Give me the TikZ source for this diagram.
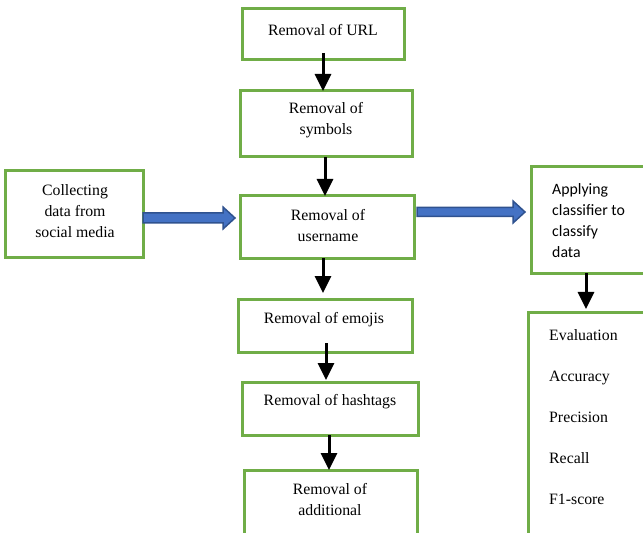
\documentclass[tikz,border=0pt]{standalone}
\usepackage{fontspec}
\setmainfont{Liberation Serif}
\newfontfamily\calib{Carlito}
\usetikzlibrary{arrows.meta,calc}
\definecolor{boxgreen}{HTML}{70AD47}
\definecolor{arrblue}{HTML}{4472C4}
\definecolor{arrbord}{HTML}{2F528F}
\newcommand\fatarr[3]{%
  \draw[fat] let \p1=(#1), \p2=(#2) in
    (\x1,\y1+#3) -- (\x2-12bp,\y1+#3) -- (\x2-12bp,\y1+11bp) -- (\x2,\y1)
    -- (\x2-12bp,\y1-11bp) -- (\x2-12bp,\y1-#3) -- (\x1,\y1-#3) -- cycle;}
\begin{document}
\begin{tikzpicture}[x=1bp,y=-1bp,
  box/.style={draw=boxgreen, line width=3bp, rectangle, inner sep=0pt, outer sep=0pt},
  txt/.style={font=\fontsize{15.8bp}{21bp}\selectfont, align=center, inner sep=0pt},
  stxt/.style={font=\calib\fontsize{15.8bp}{21bp}\selectfont, align=left, inner sep=0pt},
  arr/.style={line width=3bp, -{Triangle[width=16bp,length=17bp]}},
  fat/.style={fill=arrblue, draw=arrbord, line width=1.5bp}]
\useasboundingbox (0,0) rectangle (643,533);
\clip (0,0) rectangle (643,533);
% boxes
\node[box, minimum width=162bp, minimum height=51bp] (url) at (323,34.5) {};
\node[box, minimum width=172bp, minimum height=66bp] (sym) at (326,124) {};
\node[box, minimum width=174bp, minimum height=62bp] (user) at (327,227) {};
\node[box, minimum width=137bp, minimum height=86bp] (coll) at (74.5,214) {};
\node[box, minimum width=129bp, minimum height=106bp] (appl) at (595.5,220) {};
\node[box, minimum width=132bp, minimum height=247bp] (eval) at (594,436.5) {};
\node[box, minimum width=174bp, minimum height=53bp] (emo) at (325,325.5) {};
\node[box, minimum width=176bp, minimum height=53bp] (hash) at (330,408.5) {};
\node[box, minimum width=173bp, minimum height=90bp] (add) at (330.5,515) {};
% texts
\node[txt] (urlt) at (323,30) {Removal of URL};
\node[txt] (symt) at (326,120.5) {Removal of\\symbols};
\node[txt] (usert) at (328,226) {Removal of\\username};
\node[txt] (collt) at (75,211.5) {Collecting\\data from\\social media};
\node[stxt, anchor=west] (applt) at (552,221) {Applying\\classifier to\\classify\\data};
\node[txt] (emot) at (324,320) {Removal of emojis};
\node[txt] (hasht) at (330,402) {Removal of hashtags};
\node[txt] (addt) at (330,499.5) {Removal of\\additional};
\node[txt, anchor=base west] (ev1) at (549,340) {Evaluation};
\node[txt, anchor=base west] (ev2) at (549,381) {Accuracy};
\node[txt, anchor=base west] (ev3) at (549,422) {Precision};
\node[txt, anchor=base west] (ev4) at (549,463) {Recall};
\node[txt, anchor=base west] (ev5) at (549,504) {F1-score};
% black arrows
\draw[arr] ([yshift=7bp]url.south) -- (url.south |- sym.north);
\draw[arr] ([xshift=-1bp]sym.south) -- ([xshift=-1bp]sym.south |- user.north);
\draw[arr] ([xshift=-4bp]user.south) -- ([xshift=-4bp,yshift=6bp]user.south |- emo.north);
\draw[arr] ([xshift=1bp,yshift=9bp]emo.south) -- ([xshift=1bp,yshift=2bp]emo.south |- hash.north);
\draw[arr] ([xshift=-1bp]hash.south) -- ([xshift=-1bp]hash.south |- add.north);
\draw[arr] ([xshift=-9.5bp]appl.south) -- ([xshift=-9.5bp,yshift=4bp]appl.south |- eval.north);
% block arrows
\fatarr{[yshift=-4bp]coll.east}{[xshift=-5bp]user.west}{5bp}
\fatarr{[xshift=3bp,yshift=15bp]user.east}{[xshift=-6bp]appl.west}{4.5bp}
\end{tikzpicture}
\end{document}
